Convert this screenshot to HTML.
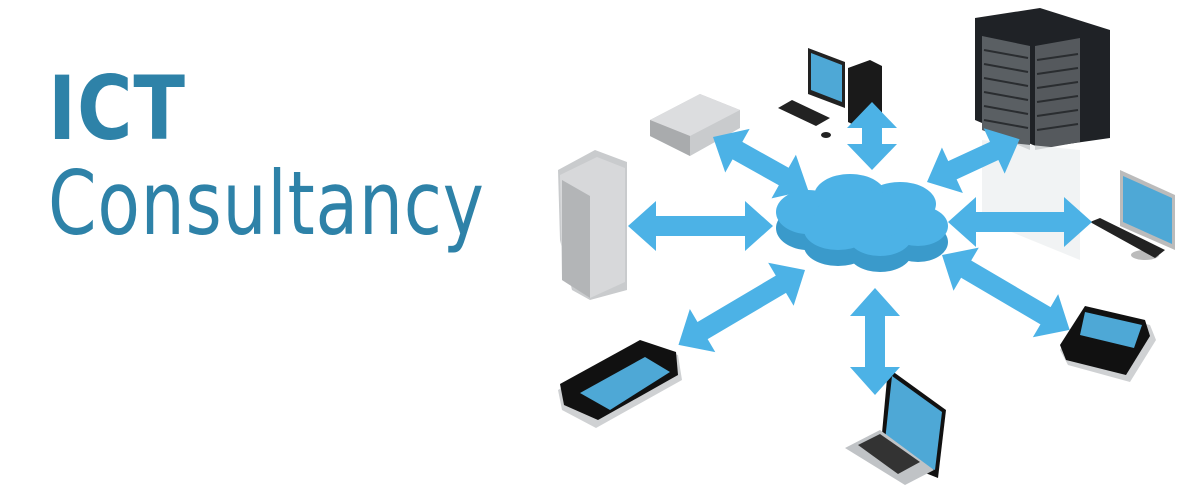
<!DOCTYPE html>
<html><head><meta charset="utf-8"><style>
html,body{margin:0;padding:0;background:#fff;}
#w{position:relative;width:1200px;height:493px;overflow:hidden;}
.t{position:absolute;left:48px;color:#2e82a8;font-family:"DejaVu Sans","Liberation Sans",sans-serif;font-size:88px;line-height:1;letter-spacing:1px;}
svg{position:absolute;left:0;top:0;}
</style></head><body><div id="w">
<div class="t" style="top:65px;font-weight:bold;transform:scaleX(0.86);transform-origin:left;">ICT</div>
<div class="t" style="top:160px;transform:scaleX(0.79);transform-origin:left;">Consultancy</div>
<svg width="1200" height="493" viewBox="0 0 1200 493">
<!-- server rack -->
<polygon points="975,18 1040,8 1110,30 1110,138 1040,148 975,120" fill="#1f2226"/>
<polygon points="982,36 1030,46 1030,150 982,130" fill="#5a5f63"/>
<polygon points="1035,46 1080,38 1080,142 1035,150" fill="#55595d"/>
<g stroke="#2a2d30" stroke-width="2">
<line x1="984" y1="50" x2="1028" y2="58"/><line x1="984" y1="64" x2="1028" y2="72"/><line x1="984" y1="78" x2="1028" y2="86"/><line x1="984" y1="92" x2="1028" y2="100"/><line x1="984" y1="106" x2="1028" y2="114"/><line x1="984" y1="120" x2="1028" y2="128"/>
<line x1="1037" y1="60" x2="1078" y2="54"/><line x1="1037" y1="74" x2="1078" y2="68"/><line x1="1037" y1="88" x2="1078" y2="82"/><line x1="1037" y1="102" x2="1078" y2="96"/><line x1="1037" y1="116" x2="1078" y2="110"/><line x1="1037" y1="130" x2="1078" y2="124"/>
</g>
<polygon points="982,140 1080,150 1080,260 982,220" fill="#eef0f1" opacity="0.8"/>
<!-- desktop -->
<polygon points="808,48 845,62 845,108 808,94" fill="#222"/>
<polygon points="811,53 842,65 842,102 811,90" fill="#4ea8d6"/>
<polygon points="848,68 870,60 882,66 882,122 860,128 848,122" fill="#1a1a1a"/>
<polygon points="778,108 792,100 830,118 816,126" fill="#222"/>
<ellipse cx="826" cy="135" rx="5" ry="3" fill="#222"/>
<!-- router -->
<polygon points="650,120 700,94 740,110 740,128 690,156 650,136" fill="#c9cbcd"/>
<polygon points="650,120 700,94 740,110 690,136" fill="#dcdddf"/>
<polygon points="650,120 690,136 690,156 650,136" fill="#a9abad"/>
<!-- tower -->
<polygon points="558,170 595,150 627,162 627,290 590,300 572,290 560,240" fill="#c9cbcd"/>
<polygon points="560,175 597,157 625,168 625,282 590,298 562,280" fill="#d7d8da"/>
<polygon points="562,180 590,196 590,298 562,280" fill="#b3b5b7"/>
<!-- right monitor -->
<polygon points="1120,170 1175,195 1175,250 1120,226" fill="#bbb"/>
<polygon points="1123,176 1172,198 1172,244 1123,222" fill="#4ea8d6"/>
<ellipse cx="1145" cy="255" rx="14" ry="5" fill="#bbb"/>
<polygon points="1090,222 1100,218 1165,250 1155,258" fill="#222"/>
<!-- right phone -->
<polygon points="1060,350 1085,310 1150,325 1156,340 1130,382 1068,365" fill="#cfd1d3"/>
<polygon points="1060,345 1085,306 1145,320 1150,336 1126,375 1066,360" fill="#111"/>
<polygon points="1085,312 1142,325 1134,348 1080,335" fill="#4ea8d6"/>
<!-- left phone -->
<polygon points="558,390 640,342 678,355 682,380 596,428 562,410" fill="#cfd1d3"/>
<polygon points="560,384 640,340 676,352 678,375 598,420 564,405" fill="#111"/>
<polygon points="580,393 645,357 670,372 610,410" fill="#4ea8d6"/>
<!-- laptop -->
<polygon points="888,368 946,410 938,478 880,455" fill="#111"/>
<polygon points="892,376 942,412 935,470 884,450" fill="#4ea8d6"/>
<polygon points="845,448 880,430 934,470 905,485" fill="#c0c3c6"/>
<polygon points="858,445 880,434 920,462 898,474" fill="#333"/>
<!-- arrows -->
<g fill="#4cb2e6">
<g transform="translate(628,226) scale(1,1.25)"><polygon points="0,0 28,-20 28,-8 117,-8 117,-20 145,0 117,20 117,8 28,8 28,20"/></g>
<g transform="translate(713,137) rotate(29.2) scale(1,1.25)"><polygon points="0,0 28,-20 28,-8 81,-8 81,-20 109,0 81,20 81,8 28,8 28,20"/></g>
<g transform="translate(872,102) rotate(90) scale(1,1.25)"><polygon points="0,0 26,-20 26,-8 42,-8 42,-20 68,0 42,20 42,8 26,8 26,20"/></g>
<g transform="translate(927,182) rotate(-24.8) scale(1,1.25)"><polygon points="0,0 28,-20 28,-8 74,-8 74,-20 102,0 74,20 74,8 28,8 28,20"/></g>
<g transform="translate(948,222) scale(1,1.25)"><polygon points="0,0 28,-20 28,-8 116,-8 116,-20 144,0 116,20 116,8 28,8 28,20"/></g>
<g transform="translate(942,255) rotate(30.4) scale(1,1.25)"><polygon points="0,0 28,-20 28,-8 120,-8 120,-20 148,0 120,20 120,8 28,8 28,20"/></g>
<g transform="translate(875,288) rotate(90) scale(1,1.25)"><polygon points="0,0 28,-20 28,-8 79,-8 79,-20 107,0 79,20 79,8 28,8 28,20"/></g>
<g transform="translate(805,270) rotate(149.4) scale(1,1.25)"><polygon points="0,0 28,-20 28,-8 119,-8 119,-20 147,0 119,20 119,8 28,8 28,20"/></g>
</g>
<!-- cloud -->
<g fill="#3a9acb" transform="translate(0,16)">
<ellipse cx="808" cy="212" rx="32" ry="22"/><ellipse cx="850" cy="196" rx="36" ry="22"/><ellipse cx="900" cy="204" rx="36" ry="22"/><ellipse cx="918" cy="226" rx="30" ry="20"/><ellipse cx="838" cy="230" rx="34" ry="20"/><ellipse cx="880" cy="236" rx="32" ry="20"/>
</g>
<g fill="#4cb2e6">
<ellipse cx="808" cy="212" rx="32" ry="22"/><ellipse cx="850" cy="196" rx="36" ry="22"/><ellipse cx="900" cy="204" rx="36" ry="22"/><ellipse cx="918" cy="226" rx="30" ry="20"/><ellipse cx="838" cy="230" rx="34" ry="20"/><ellipse cx="880" cy="236" rx="32" ry="20"/><ellipse cx="865" cy="215" rx="50" ry="24"/>
</g>
</svg>
</div></body></html>
